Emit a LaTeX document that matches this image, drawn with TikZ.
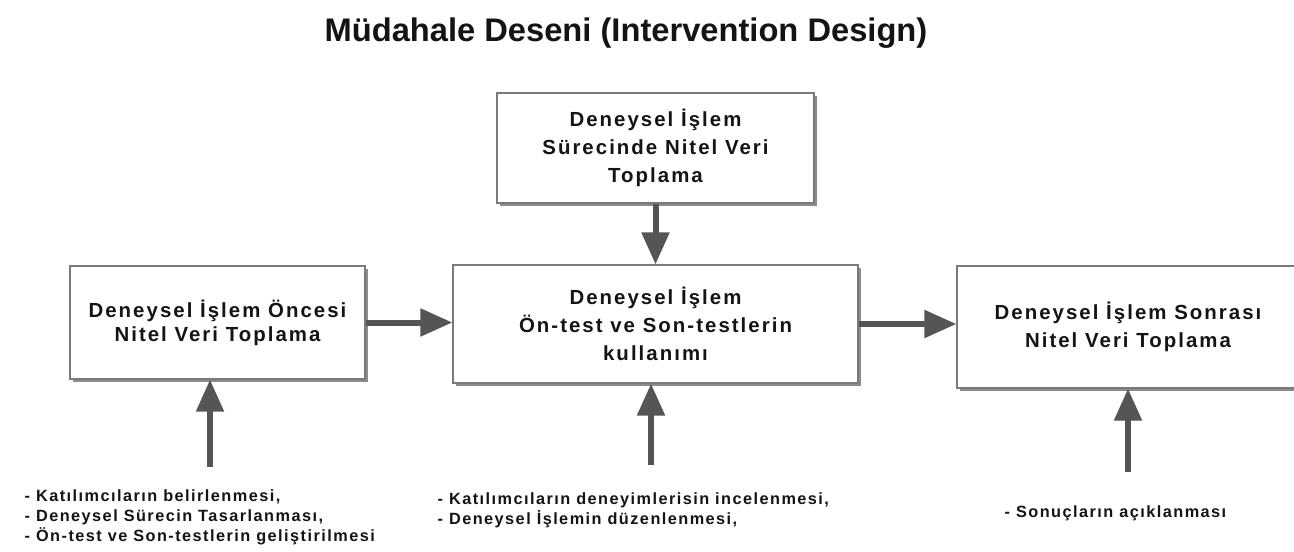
\documentclass[tikz,border=0pt]{standalone}
\usepackage{fontspec}
\setmainfont{Liberation Sans}
\newfontfamily\boxfont[LetterSpace=10]{Liberation Sans}
\newfontfamily\notefont[LetterSpace=9]{Liberation Sans}
\usetikzlibrary{arrows.meta,shadows}
\definecolor{arrowgray}{HTML}{555555}
\definecolor{framegray}{HTML}{7A7A7A}
\definecolor{textdark}{HTML}{141414}
\begin{document}
\begin{tikzpicture}[
                x=0.75pt, y=-0.75pt,
                box/.style={
                    draw=framegray,
                    fill=white,
                    line width=0.8pt,
                    rectangle,
                    drop shadow={shadow xshift=2.2pt, shadow yshift=-2.2pt, fill=black!45, opacity=1},
                    align=center,
                    text=textdark,
                    font=\boxfont\bfseries\fontsize{15.3}{21}\selectfont
                },
                note/.style={
                    anchor=west,
                    align=left,
                    text=textdark,
                    font=\notefont\bfseries\fontsize{12.2}{15}\selectfont
                },
                arrow/.style={
                    -{Triangle[length=24pt,width=20pt]},
                    line width=4.5pt,
                    draw=arrowgray
                }
            ]
                \clip (0,0) rectangle (1294,552);
                \fill[white] (0,0) rectangle (1294,552);

                \node[text=textdark, font=\bfseries\fontsize{24.5}{28}\selectfont] (title) at (626,33) {Müdahale Deseni (Intervention Design)};

                \node[box, minimum width=237.75pt, minimum height=82.5pt] (during) at (655.5,148) {Deneysel İşlem\\Sürecinde Nitel Veri\\Toplama};
                \node[box, minimum width=221.25pt, minimum height=84.75pt, font=\boxfont\bfseries\fontsize{15.3}{18}\selectfont] (pre) at (217.5,322.5) {Deneysel İşlem Öncesi\\Nitel Veri Toplama};
                \node[box, minimum width=303.75pt, minimum height=88.5pt] (main) at (655.5,324) {Deneysel İşlem\\Ön-test ve Son-testlerin\\kullanımı};
                \node[box, minimum width=256.5pt, minimum height=91.5pt] (post) at (1128,327) {Deneysel İşlem Sonrası\\Nitel Veri Toplama};

                \node[note] (preNote) at (20,517) {- Katılımcıların belirlenmesi,\\- Deneysel Sürecin Tasarlanması,\\- Ön-test ve Son-testlerin geliştirilmesi};
                \node[note] (mainNote) at (433,510) {- Katılımcıların deneyimlerisin incelenmesi,\\- Deneysel İşlemin düzenlenmesi,};
                \node[note] (postNote) at (1000,513) {- Sonuçların açıklanması};

                \coordinate (preIn) at (210,467);
                \coordinate (mainIn) at (651,465);
                \coordinate (postIn) at (1128,472);

                \draw[arrow] (during.south) -- (during.south |- main.north);
                \draw[arrow] (pre.east) -- (pre.east -| main.west);
                \draw[arrow] (main.east) -- (main.east -| post.west);
                \draw[arrow] (preIn) -- (preIn |- pre.south);
                \draw[arrow] (mainIn) -- (mainIn |- main.south);
                \draw[arrow] (postIn) -- (postIn |- post.south);
        \end{tikzpicture}
\end{document}
